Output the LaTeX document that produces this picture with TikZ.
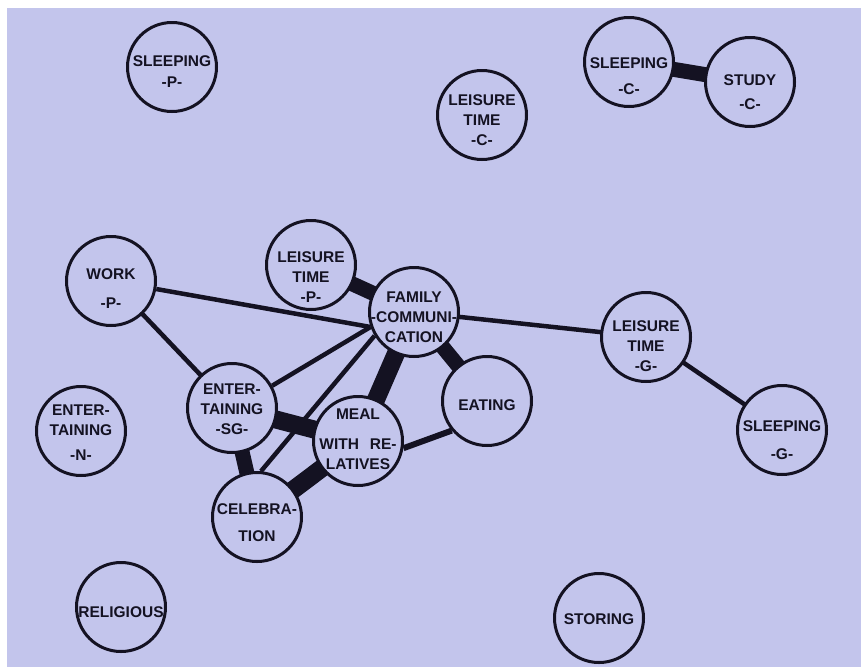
\documentclass[tikz,border=0pt]{standalone}
\usepackage{fontspec}
\setmainfont{Liberation Sans}
\definecolor{paper}{RGB}{195,197,236}
\definecolor{ink}{RGB}{20,18,34}
\pgfdeclarelayer{sheet}
\pgfdeclarelayer{links}
\pgfsetlayers{sheet,links,main}
\tikzset{
  bubble/.style={circle, draw=ink, line width=3pt, fill=paper, minimum size=89pt, inner sep=0pt},
  tag/.style={text=ink, font=\fontsize{15.5}{20}\selectfont\bfseries, align=center, inner sep=0pt},
  thin link/.style={draw=ink, line width=4.5pt},
  mid link/.style={draw=ink, line width=6pt},
  thick link/.style={draw=ink, line width=15pt},
  heavy link/.style={draw=ink, line width=18pt},
}

\begin{document}
\begin{tikzpicture}[x=1pt,y=-1pt]
  \useasboundingbox (0,0) rectangle (861,667);
  \begin{pgfonlayer}{sheet}
    \fill[paper] (7,8) rectangle (861,667);
  \end{pgfonlayer}
  % activities
  \node[bubble, label={[tag,yshift=-5pt]center:{SLEEPING\\[1pt]-P-}}] (slp) at (172,67) {};
  \node[bubble, label={[tag,yshift=-5pt]center:{LEISURE\\TIME\\-C-}}] (ltc) at (482,115) {};
  \node[bubble, label={[tag,yshift=-14pt]center:{SLEEPING\\[6pt]-C-}}] (slc) at (629,62) {};
  \node[bubble, label={[tag,yshift=-10pt]center:{STUDY\\[4pt]-C-}}] (stc) at (750,82) {};
  \node[bubble, label={[tag,yshift=-8pt]center:{WORK\\[9pt]-P-}}] (wrp) at (111,281) {};
  \node[bubble, label={[tag,yshift=-12pt]center:{LEISURE\\TIME\\-P-}}] (ltp) at (311,265) {};
  \node[bubble, label={[tag,yshift=-5pt]center:{FAMILY\\-COMMUNI-\\CATION}}] (fam) at (414,312) {};
  \node[bubble, label={[tag,yshift=-9pt]center:{LEISURE\\TIME\\-G-}}] (ltg) at (646,337) {};
  \node[bubble, label={[tag,yshift=-10pt]center:{SLEEPING\\[8pt]-G-}}] (slg) at (782,430) {};
  \node[bubble, label={[tag,yshift=-1pt]center:{ENTER-\\TAINING\\-SG-}}] (ens) at (232,408) {};
  \node[bubble, label={[tag,yshift=-2pt]center:{ENTER-\\TAINING\\[5pt]-N-}}] (enn) at (81,431) {};
  \node[bubble, label={[tag,yshift=2pt]center:{MEAL\\[10pt]WITH\hspace{0.7em}RE-\\LATIVES}}] (mea) at (358,441) {};
  \node[bubble, label={[tag,yshift=-4pt]center:{EATING}}] (eat) at (487,401) {};
  \node[bubble, label={[tag,yshift=-6pt]center:{CELEBRA-\\[7pt]TION}}] (cel) at (257,517) {};
  \node[bubble, label={[tag,yshift=-5pt]center:{RELIGIOUS}}] (rel) at (121,607) {};
  \node[bubble, label={[tag,yshift=-1pt]center:{STORING}}] (sto) at (599,618) {};
  % links
  \begin{pgfonlayer}{links}
    \draw[thin link] (wrp) -- (fam.199);
    \draw[thin link] (wrp.center) -- (ens.center);
    \draw[thin link] (fam.199) -- (ens.29);
    \draw[thin link] (fam.211) -- (cel.85);
    \draw[thin link] (fam.center) -- (ltg.center);
    \draw[thin link] (ltg.center) -- (slg.center);
    \draw[mid link] (mea.351) -- (eat.220);
    \draw[thick link] (ltp.center) -- (fam.center);
    \draw[thick link] (fam.center) -- (eat.center);
    \draw[thick link] (ens.center) -- (cel.center);
    \draw[thick link] (slc.center) -- (stc.center);
    \draw[heavy link] (fam.center) -- (mea.center);
    \draw[heavy link] (ens.center) -- (mea.center);
    \draw[heavy link] (mea.center) -- (cel.center);
  \end{pgfonlayer}
\end{tikzpicture}
\end{document}
